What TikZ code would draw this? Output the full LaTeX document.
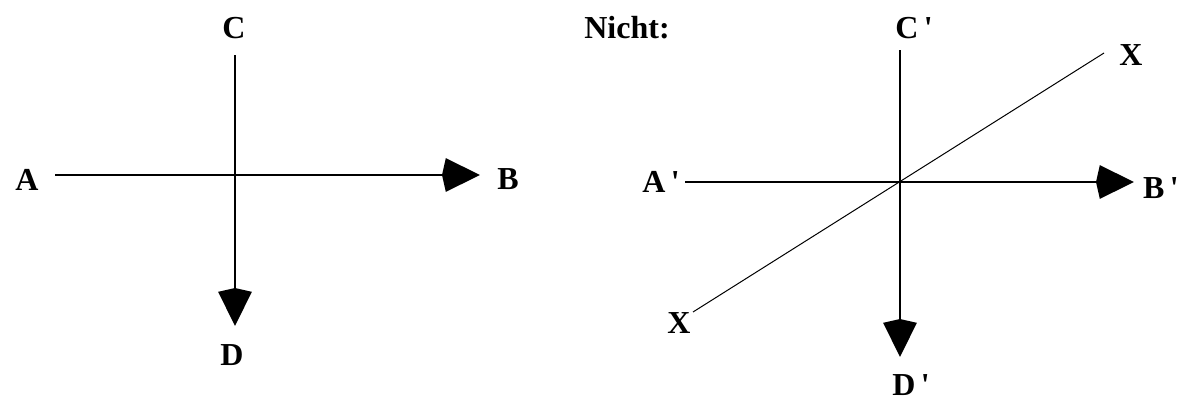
\documentclass[tikz,border=0pt]{standalone}
\usepackage{fontspec}
\setmainfont{Liberation Serif}
\usetikzlibrary{arrows.meta}
\newcommand{\pr}{\,\textquotesingle}
\begin{document}
\begin{tikzpicture}[x=1pt,y=-1pt,
  lbl/.style={font=\fontsize{32}{36}\selectfont\bfseries, inner sep=0pt},
  axis/.style={line width=2.2pt, -{Stealth[length=34pt,width=33pt,inset=-4pt]}},
  thinline/.style={line width=1pt}]
\useasboundingbox (0,0) rectangle (1184,405);
% left figure
\node[lbl] (A) at (27,180) {A};
\node[lbl] (B) at (508,179) {B};
\node[lbl] (C) at (234,28) {C};
\node[lbl] (D) at (232,355) {D};
\coordinate (a0) at (55,175);
\coordinate (a1) at (480,175);
\coordinate (c0) at (235,55);
\coordinate (c1) at (235,326);
\draw[axis] (a0) -- (a1);
\draw[axis] (c0) -- (c1);
% right figure
\node[lbl] (N) at (627,28) {Nicht:};
\node[lbl] (A2) at (661,182) {A\pr};
\node[lbl] (B2) at (1161,188) {B\pr};
\node[lbl] (C2) at (914,28) {C\pr};
\node[lbl] (D2) at (911,385) {D\pr};
\node[lbl] (X1) at (1131,55) {X};
\node[lbl] (X2) at (679,323) {X};
\coordinate (e0) at (685,182);
\coordinate (e1) at (1134,182);
\coordinate (f0) at (900,50);
\coordinate (f1) at (900,357);
\coordinate (x0) at (1104,53);
\coordinate (x1) at (693,312);
\draw[axis] (e0) -- (e1);
\draw[axis] (f0) -- (f1);
\draw[thinline] (x0) -- (x1);
\end{tikzpicture}
\end{document}
